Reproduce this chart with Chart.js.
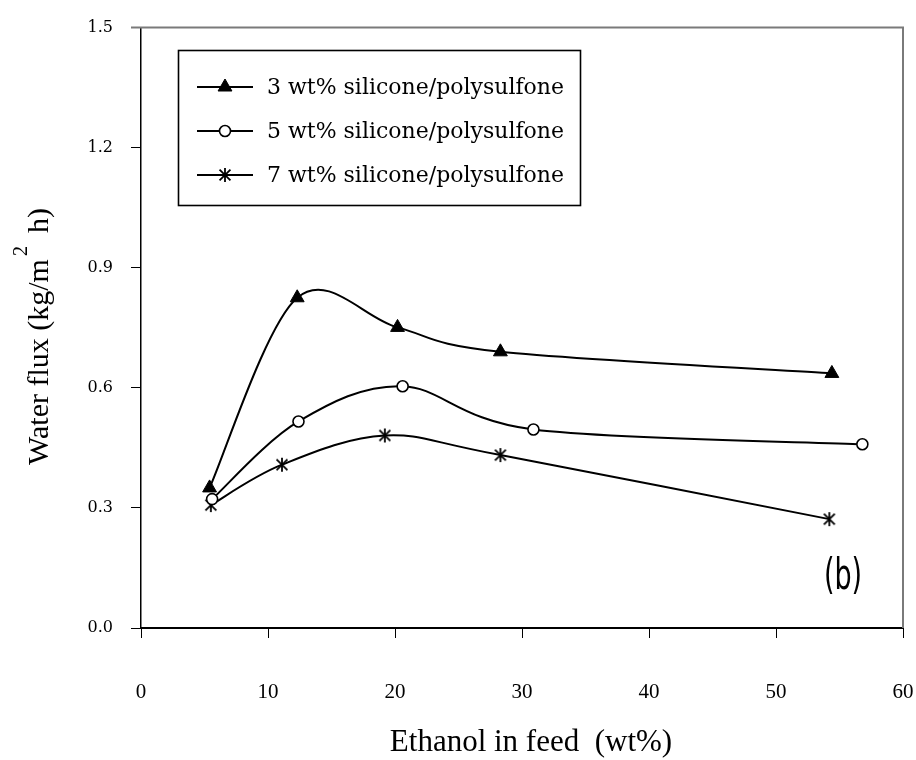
<!DOCTYPE html>
<html>
<head>
<meta charset="utf-8">
<script src="https://cdn.jsdelivr.net/npm/chart.js@4/dist/chart.umd.min.js"></script>
<style>
  html, body { margin: 0; padding: 0; background: #fff; }
  #wrap { width: 916px; height: 760px; }
</style>
</head>
<body>
<div id="wrap"><canvas id="c" width="916" height="760"></canvas></div>
<script>
// Ethanol content in feed (wt%) and water flux (kg/m2 h) for each membrane
const ethanol3 = [5.4, 12.3, 20.2, 28.3, 54.4];
const flux3    = [0.350, 0.825, 0.751, 0.690, 0.636];
const ethanol5 = [5.6, 12.4, 20.6, 30.9, 56.8];
const flux5    = [0.322, 0.516, 0.604, 0.496, 0.459];
const ethanol7 = [5.5, 11.1, 19.2, 28.3, 54.2];
const flux7    = [0.307, 0.408, 0.481, 0.432, 0.272];

const seriesNames = [
  '3 wt% silicone/polysulfone',
  '5 wt% silicone/polysulfone',
  '7 wt% silicone/polysulfone'
];
const xTicks = [0, 10, 20, 30, 40, 50, 60];
const yTicks = [0, 0.3, 0.6, 0.9, 1.2, 1.5];
const xTitle = 'Ethanol in feed  (wt%)';

// asterisk marker: vertical bar plus an X
function asteriskMarker(size, lw) {
  const c = document.createElement('canvas');
  c.width = c.height = size;
  const g = c.getContext('2d');
  g.strokeStyle = '#000';
  g.lineWidth = lw;
  const m = size / 2, r = size / 2 - 1, d = r * 0.78;
  g.beginPath();
  g.moveTo(m, m - r); g.lineTo(m, m + r);
  g.moveTo(m - d, m - d); g.lineTo(m + d, m + d);
  g.moveTo(m + d, m - d); g.lineTo(m - d, m + d);
  g.stroke();
  return c;
}
const star = asteriskMarker(16, 1.8);

const pts = (xs, ys) => xs.map((x, i) => ({ x: x, y: ys[i] }));

const markerStyles = [
  { pointStyle: 'triangle', radius: 8, fill: '#000', borderWidth: 1 },
  { pointStyle: 'circle', radius: 5.5, fill: '#fff', borderWidth: 1.6 },
  { pointStyle: star, radius: 8, fill: '#000', borderWidth: 1 }
];

function makeDataset(i, xs, ys) {
  const m = markerStyles[i];
  return {
    label: seriesNames[i],
    data: pts(xs, ys),
    borderColor: '#000',
    borderWidth: 2,
    tension: 0.33,
    pointStyle: m.pointStyle,
    pointRadius: m.radius,
    pointBackgroundColor: m.fill,
    pointBorderColor: '#000',
    pointBorderWidth: m.borderWidth,
    fill: false
  };
}

// smoothed lines: uniform Catmull-Rom control points (tangent = (next - prev) / 6)
const uniformSpline = {
  id: 'uniformSpline',
  beforeDatasetDraw(chart, args) {
    const meta = args.meta;
    const line = meta.dataset;
    if (!line || !line.updateControlPoints) return;
    line.updateControlPoints(chart.chartArea, 'x');
    const p = meta.data;
    for (let i = 0; i < p.length; i++) {
      const prev = p[i - 1] || p[i];
      const next = p[i + 1] || p[i];
      const tx = (next.x - prev.x) / 6;
      const ty = (next.y - prev.y) / 6;
      p[i].cp1x = p[i].x - tx;
      p[i].cp1y = p[i].y - ty;
      p[i].cp2x = p[i].x + tx;
      p[i].cp2y = p[i].y + ty;
    }
  }
};

// frame, legend box, axis titles and panel tag
const decorations = {
  id: 'decorations',
  afterDraw(chart) {
    const ctx = chart.ctx;
    const a = chart.chartArea;

    // grey top and right frame
    ctx.save();
    ctx.strokeStyle = '#7a7a7a';
    ctx.lineWidth = 2;
    ctx.beginPath();
    ctx.moveTo(a.left - 10, a.top);
    ctx.lineTo(a.right, a.top);
    ctx.lineTo(a.right, a.bottom);
    ctx.stroke();
    ctx.restore();

    // legend
    ctx.save();
    ctx.strokeStyle = '#000';
    ctx.lineWidth = 1.6;
    ctx.strokeRect(178.5, 50.5, 402, 155);
    ctx.font = '22px "DejaVu Serif"';
    ctx.fillStyle = '#000';
    ctx.textBaseline = 'middle';
    chart.data.datasets.forEach((ds, i) => {
      const y = 87 + i * 44;
      ctx.beginPath();
      ctx.lineWidth = 2;
      ctx.moveTo(197, y);
      ctx.lineTo(253, y);
      ctx.stroke();
      const m = markerStyles[i];
      ctx.fillStyle = m.fill;
      ctx.lineWidth = m.borderWidth;
      Chart.helpers.drawPoint(ctx, { pointStyle: m.pointStyle, radius: m.radius, rotation: 0, borderWidth: m.borderWidth }, 225, y);
      ctx.fillStyle = '#000';
      ctx.fillText(ds.label, 267, y + 1);
    });
    ctx.restore();

    // x-axis title
    ctx.save();
    ctx.font = '31px "Liberation Serif"';
    ctx.fillStyle = '#000';
    ctx.textAlign = 'center';
    ctx.textBaseline = 'middle';
    ctx.fillText(xTitle, 531, 743);
    ctx.restore();

    // y-axis title: Water flux (kg/m^2 h)
    ctx.save();
    ctx.translate(40, 337);
    ctx.rotate(-Math.PI / 2);
    ctx.fillStyle = '#000';
    ctx.textBaseline = 'middle';
    const mainFont = '30px "Liberation Serif"';
    const supFont = '20px "Liberation Serif"';
    const partA = 'Water flux (kg/m';
    const partB = '2';
    const partC = '  h)';
    ctx.font = mainFont;
    const wA = ctx.measureText(partA).width;
    const wC = ctx.measureText(partC).width;
    ctx.font = supFont;
    const wB = ctx.measureText(partB).width;
    let x = -(wA + wB + wC) / 2;
    ctx.font = mainFont;
    ctx.fillText(partA, x, 0);
    x += wA + 3;
    ctx.font = supFont;
    ctx.fillText(partB, x, -18);
    x += wB - 2;
    ctx.font = mainFont;
    ctx.fillText(partC, x, 0);
    ctx.restore();

    // panel tag
    ctx.save();
    ctx.translate(843, 578);
    ctx.scale(1, 1.45);
    ctx.font = '30px "Liberation Sans Narrow", "DejaVu Sans Condensed", sans-serif';
    ctx.fillStyle = '#000';
    ctx.textAlign = 'center';
    ctx.textBaseline = 'middle';
    ctx.fillText('(b)', 0, 0);
    ctx.restore();
  }
};

new Chart(document.getElementById('c'), {
  type: 'line',
  data: {
    datasets: [
      makeDataset(0, ethanol3, flux3),
      makeDataset(1, ethanol5, flux5),
      makeDataset(2, ethanol7, flux7)
    ]
  },
  options: {
    responsive: false,
    animation: false,
    devicePixelRatio: 1,
    layout: { padding: { left: 0, top: 17, right: 13, bottom: 0 } },
    plugins: { legend: { display: false }, tooltip: { enabled: false } },
    scales: {
      x: {
        type: 'linear',
        min: 0, max: 60,
        afterBuildTicks: s => { s.ticks = xTicks.map(v => ({ value: v })); },
        afterFit: s => { s.height = 132; s.paddingLeft = 12; s.paddingRight = 12; },
        grid: { drawOnChartArea: false, drawTicks: true, tickLength: 10, color: '#000', lineWidth: 1 },
        border: { color: '#000', width: 2 },
        ticks: {
          color: '#000',
          padding: 42,
          maxRotation: 0,
          font: { family: '"Liberation Serif"', size: 21 }
        },
        title: { display: false }
      },
      y: {
        type: 'linear',
        min: 0, max: 1.5,
        afterBuildTicks: s => { s.ticks = yTicks.map(v => ({ value: v })); },
        afterFit: s => { s.width = 141; },
        grid: { drawOnChartArea: false, drawTicks: true, tickLength: 10, color: '#000', lineWidth: 1 },
        border: { color: '#000', width: 1.5 },
        ticks: {
          color: '#000',
          padding: 18,
          font: { family: '"DejaVu Serif"', size: 16 },
          callback: v => Number(v).toFixed(1)
        }
      }
    }
  },
  plugins: [uniformSpline, decorations]
});
</script>
</body>
</html>
